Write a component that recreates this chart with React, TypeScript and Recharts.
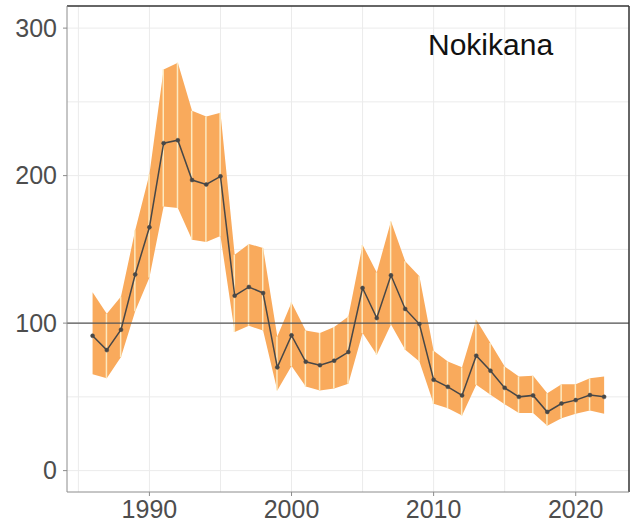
import {
  Area,
  Bar,
  CartesianGrid,
  ComposedChart,
  Customized,
  Line,
  ReferenceLine,
  XAxis,
  YAxis,
} from "recharts";

// years of the survey
const years = [
  1986, 1987, 1988, 1989, 1990, 1991, 1992, 1993, 1994, 1995, 1996, 1997, 1998,
  1999, 2000, 2001, 2002, 2003, 2004, 2005, 2006, 2007, 2008, 2009, 2010, 2011,
  2012, 2013, 2014, 2015, 2016, 2017, 2018, 2019, 2020, 2021, 2022,
];

// index estimate
const index = [
  91.4, 81.7, 95.5, 133, 165, 222, 224, 197, 194, 199.5, 118.6, 124.5, 120.4,
  70, 91.7, 73.8, 71.5, 74.5, 80.4, 123.8, 103.4, 132.4, 109.6, 99.4, 61.6,
  56.8, 51, 77.9, 67.7, 56.1, 50, 51, 39.8, 45.5, 47.8, 51.2, 50,
];

// confidence band
const upper = [
  121, 106.4, 118, 163, 201, 272, 276.6, 244, 240, 242.6, 146.4, 153.7, 151, 91,
  114, 95, 93.3, 97.3, 104.5, 153, 134.4, 169, 142, 131.7, 81.3, 74, 70, 102.3,
  86.5, 70.6, 63.8, 64.3, 52.5, 58.6, 58.6, 62.7, 63.8,
];
const lower = [
  65.4, 62.7, 77, 108, 131, 179, 178, 156.6, 155, 159, 94, 98.2, 95, 54.3, 71,
  57, 54.3, 55.7, 58.9, 93.3, 78.5, 99, 82, 74, 45.3, 42.3, 37.3, 58.2, 51.4,
  45, 39, 39, 30.5, 35.5, 38.5, 40.7, 38.5,
];

const xTicks = [1990, 2000, 2010, 2020];
const yTicks = [0, 100, 200, 300];
const xGrid = [1985, 1990, 1995, 2000, 2005, 2010, 2015, 2020];
const yGrid = [0, 50, 100, 150, 200, 250, 300];

const X_MIN = 1984.2;
const X_MAX = 2023.75;
const Y_MIN = -14.5;
const Y_MAX = 315;

const data = years.map((year, i) => ({
  year,
  value: index[i],
  band: [lower[i], upper[i]],
  // thin separators between yearly segments (not at the ends)
  sep: i > 0 && i < years.length - 1 ? [lower[i], upper[i]] : null,
}));

const tickStyle = {
  fontSize: 25,
  fill: "#4d4d4d",
  fontFamily: "Arial, 'Liberation Sans', sans-serif",
};

const Title = () => (
  <text
    x={428}
    y={55}
    fontSize={30}
    fill="#111"
    fontFamily="Arial, 'Liberation Sans', sans-serif"
  >
    Nokikana
  </text>
);

export default function App() {
  return (
    <div style={{ position: "absolute", left: 0, top: 0 }}>
      <ComposedChart
        width={632}
        height={529}
        data={data}
        margin={{ top: 6, right: 3, bottom: 0, left: 0 }}
      >
        <CartesianGrid
          stroke="#ebebeb"
          verticalValues={xGrid}
          horizontalValues={yGrid}
        />
        <XAxis
          dataKey="year"
          type="number"
          domain={[X_MIN, X_MAX]}
          ticks={xTicks}
          allowDataOverflow
          height={37}
          tickSize={4}
          tickMargin={4}
          stroke="#8c8c8c"
          tick={tickStyle}
        />
        <YAxis
          type="number"
          domain={[Y_MIN, Y_MAX]}
          ticks={yTicks}
          allowDataOverflow
          width={67}
          tickSize={4}
          tickMargin={6}
          stroke="#8c8c8c"
          tick={tickStyle}
        />
        <Area
          dataKey="band"
          type="linear"
          fill="#f9aa5c"
          fillOpacity={1}
          stroke="none"
          isAnimationActive={false}
        />
        <Bar
          dataKey="sep"
          barSize={1.5}
          fill="#fce9c0"
          isAnimationActive={false}
        />
        <ReferenceLine y={100} stroke="#555" strokeWidth={1.3} />
        <ReferenceLine y={Y_MAX} stroke="#333" strokeWidth={1.5} />
        <ReferenceLine x={X_MAX} stroke="#333" strokeWidth={1.5} />
        <Line
          dataKey="value"
          type="linear"
          stroke="#474747"
          strokeWidth={1.5}
          dot={{ r: 2, fill: "#474747", stroke: "#474747", strokeWidth: 0.5 }}
          isAnimationActive={false}
        />
        <Customized component={Title} />
      </ComposedChart>
    </div>
  );
}
